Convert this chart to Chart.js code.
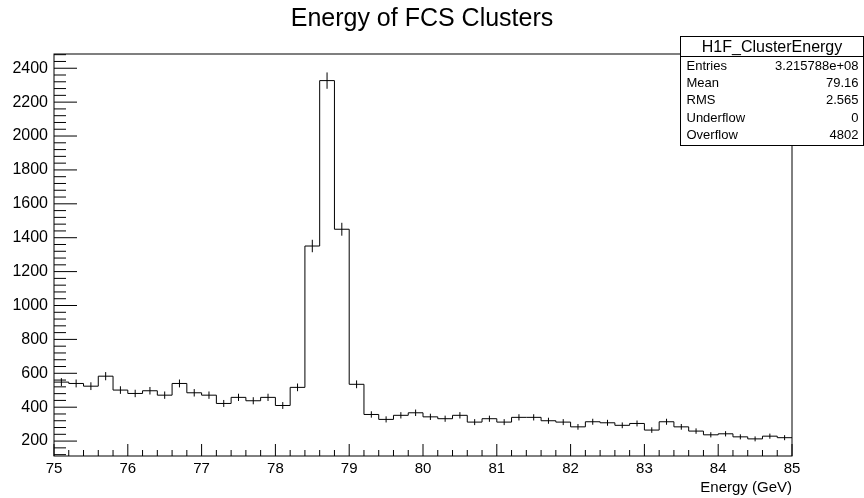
<!DOCTYPE html>
<html>
<head>
<meta charset="utf-8">
<title>Energy of FCS Clusters</title>
<script src="https://cdn.jsdelivr.net/npm/chart.js@4.4.1/dist/chart.umd.min.js"></script>
<style>
  html, body { margin: 0; padding: 0; background: #fff; }
</style>
</head>
<body>
<canvas id="clusterEnergy" width="864" height="498"></canvas>
<script>
// H1F_ClusterEnergy: 50 bins of 0.2 GeV between 75 and 85 GeV
const binEdges = [
  75.0, 75.2, 75.4, 75.6, 75.8, 76.0, 76.2, 76.4, 76.6, 76.8,
  77.0, 77.2, 77.4, 77.6, 77.8, 78.0, 78.2, 78.4, 78.6, 78.8,
  79.0, 79.2, 79.4, 79.6, 79.8, 80.0, 80.2, 80.4, 80.6, 80.8,
  81.0, 81.2, 81.4, 81.6, 81.8, 82.0, 82.2, 82.4, 82.6, 82.8,
  83.0, 83.2, 83.4, 83.6, 83.8, 84.0, 84.2, 84.4, 84.6, 84.8, 85.0
];
const binCounts = [
  548, 540, 524, 583, 501, 481, 497, 471, 540, 485,
  471, 422, 458, 438, 458, 410, 517, 1351, 2327, 1450,
  535, 357, 328, 352, 367, 343, 332, 352, 312, 332,
  312, 340, 340, 320, 312, 284, 314, 308, 293, 304,
  265, 314, 284, 259, 237, 243, 225, 213, 229, 220
];
const xMajorTicks = [75, 76, 77, 78, 79, 80, 81, 82, 83, 84, 85];
const yMajorTicks = [200, 400, 600, 800, 1000, 1200, 1400, 1600, 1800, 2000, 2200, 2400];
const statNames = ['Entries', 'Mean', 'RMS', 'Underflow', 'Overflow'];
const statValues = ['3.215788e+08', '79.16', '2.565', '0', '4802'];

const histTitle = 'Energy of FCS Clusters';
const statTitle = 'H1F_ClusterEnergy';
const xTitle = 'Energy (GeV)';
const yMin = 112, yMax = 2484;

const FONT = '"Liberation Sans", Arial, Helvetica, sans-serif';

// step outline: one point per bin low edge, plus the last edge
const stepPoints = binCounts.map((c, i) => ({ x: binEdges[i], y: c }));
stepPoints.push({ x: binEdges[binEdges.length - 1], y: binCounts[binCounts.length - 1] });

// ROOT-ish decorations: error bars, inward ticks, frame, labels, stats box
const rootStyle = {
  id: 'rootStyle',
  afterDatasetsDraw(chart) {
    const { ctx, scales: { x, y } } = chart;
    ctx.save();
    ctx.strokeStyle = '#000';
    ctx.lineWidth = 1;
    binCounts.forEach((c, i) => {
      const cx = x.getPixelForValue((binEdges[i] + binEdges[i + 1]) / 2);
      const err = Math.sqrt(c);
      ctx.beginPath();
      ctx.moveTo(cx, y.getPixelForValue(c - err));
      ctx.lineTo(cx, y.getPixelForValue(c + err));
      ctx.stroke();
    });
    ctx.restore();
  },
  afterDraw(chart) {
    const { ctx, chartArea: a, scales: { x, y } } = chart;
    ctx.save();
    ctx.strokeStyle = '#000';
    ctx.lineWidth = 1;

    // frame
    ctx.strokeRect(a.left, a.top, a.right - a.left, a.bottom - a.top);

    // y ticks, pointing into the frame
    ctx.beginPath();
    for (let v = 120; v <= yMax; v += 40) {
      const py = y.getPixelForValue(v);
      const len = (v % 200 === 0) ? 23 : 12;
      ctx.moveTo(a.left, py);
      ctx.lineTo(a.left + len, py);
    }
    // x ticks
    for (let k = 0; k < binEdges.length; k++) {
      const px = x.getPixelForValue(binEdges[k]);
      const len = (k % 5 === 0) ? 12 : 6;
      ctx.moveTo(px, a.bottom);
      ctx.lineTo(px, a.bottom - len);
    }
    ctx.stroke();

    ctx.fillStyle = '#000';
    ctx.font = '16px ' + FONT;
    ctx.textAlign = 'right';
    ctx.textBaseline = 'middle';
    yMajorTicks.forEach(v => ctx.fillText(String(v), a.left - 6, y.getPixelForValue(v)));

    ctx.font = '15px ' + FONT;
    ctx.textAlign = 'center';
    ctx.textBaseline = 'top';
    xMajorTicks.forEach(v => ctx.fillText(String(v), x.getPixelForValue(v), a.bottom + 5));

    ctx.textAlign = 'right';
    ctx.fillText(xTitle, a.right, a.bottom + 24);

    // title
    ctx.font = '25px ' + FONT;
    ctx.textAlign = 'center';
    ctx.textBaseline = 'middle';
    ctx.fillText(histTitle, 422, 19);

    // stats box
    const bx = 680.5, by = 36.5, bw = 183, bh = 109, hh = 20;
    ctx.fillStyle = '#fff';
    ctx.fillRect(bx, by, bw, bh);
    ctx.strokeRect(bx, by, bw, bh);
    ctx.beginPath();
    ctx.moveTo(bx, by + hh);
    ctx.lineTo(bx + bw, by + hh);
    ctx.stroke();

    ctx.fillStyle = '#000';
    ctx.font = '16px ' + FONT;
    ctx.fillText(statTitle, bx + bw / 2, by + hh / 2 + 1);
    ctx.font = '13px ' + FONT;
    statNames.forEach((name, i) => {
      const ry = by + hh + 10 + i * 17.2;
      ctx.textAlign = 'left';
      ctx.fillText(name, bx + 6, ry);
      ctx.textAlign = 'right';
      ctx.fillText(statValues[i], bx + bw - 5, ry);
    });
    ctx.restore();
  }
};

new Chart(document.getElementById('clusterEnergy'), {
  type: 'line',
  data: {
    datasets: [{
      label: statTitle,
      data: stepPoints,
      stepped: 'before',
      borderColor: '#000',
      borderWidth: 1,
      pointRadius: 0,
      fill: false
    }]
  },
  options: {
    responsive: false,
    animation: false,
    devicePixelRatio: 1,
    layout: { padding: { left: 54, top: 54, right: 72, bottom: 42 } },
    plugins: { legend: { display: false }, title: { display: false }, tooltip: { enabled: false } },
    scales: {
      x: { type: 'linear', min: 75, max: 85, display: false },
      y: { type: 'linear', min: yMin, max: yMax, display: false }
    }
  },
  plugins: [rootStyle]
});
</script>
</body>
</html>
